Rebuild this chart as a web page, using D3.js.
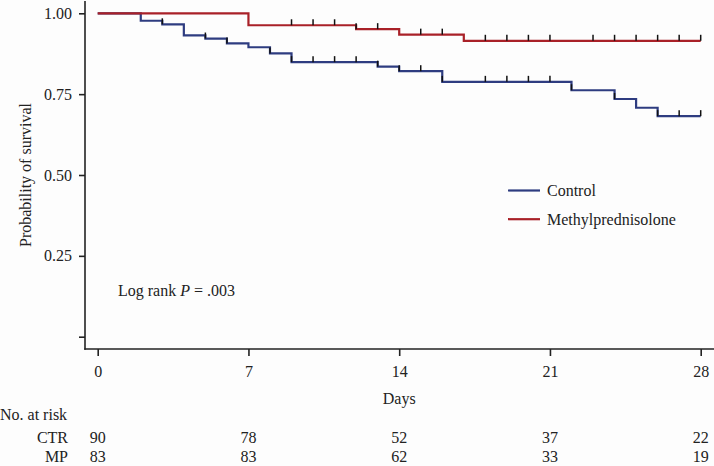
<!DOCTYPE html>
<html><head><meta charset="utf-8">
<script src="https://cdn.jsdelivr.net/npm/d3@7"></script>
<style>
html,body{margin:0;padding:0;background:#fdfdfd;}
svg{display:block;}
text{font-family:"Liberation Serif","Times New Roman",serif;fill:#222;}
</style></head>
<body>
<svg id="chart" width="714" height="466"></svg>
<script>
// ---- data ----
const xTicks = [0, 7, 14, 21, 28];
const yTicks = [0, 0.25, 0.5, 0.75, 1.0];
const yTickLabels = ["", "0.25", "0.50", "0.75", "1.00"];

const ctrTimes = [0, 2, 3, 4, 5, 6, 7, 8, 9, 13, 14, 16, 22, 24, 25, 26, 28];
const ctrSurv  = [1, 0.977, 0.966, 0.932, 0.922, 0.907, 0.895, 0.876, 0.849, 0.835, 0.821, 0.788, 0.762, 0.735, 0.708, 0.682, 0.682];
const ctrCensor = [3, 5, 6, 8, 9, 10, 11, 12, 13, 14, 15, 16, 18, 19, 20, 21, 22, 24, 26, 27, 28];

const mpTimes = [0, 7, 12, 14, 17, 28];
const mpSurv  = [1, 0.963, 0.951, 0.934, 0.915, 0.915];
const mpCensor = [9, 10, 11, 12, 13, 15, 16, 18, 19, 20, 21, 23, 24, 25, 26, 27, 28];

const seriesNames = ["Control", "Methylprednisolone"];
const seriesColors = ["#2e3c80", "#a92128"];

const riskGroups = ["CTR", "MP"];
const riskCTR = [90, 78, 52, 37, 22];
const riskMP  = [83, 83, 62, 33, 19];

// ---- layout ----
const svg = d3.select("#chart");
const axisX = 85, axisY = 349;
const x = d3.scaleLinear().domain([0, 28]).range([97.7, 700.7]);
const y = d3.scaleLinear().domain([0, 1]).range([336.7, 13.3]);
const fs = 16;
const ff = '"Liberation Serif","Times New Roman",serif';

// axes lines
svg.append("line").attr("x1", axisX).attr("x2", axisX).attr("y1", 1).attr("y2", axisY + 0.75)
  .attr("stroke", "#222").attr("stroke-width", 1.6);
svg.append("line").attr("x1", axisX - 0.75).attr("x2", 714).attr("y1", axisY).attr("y2", axisY)
  .attr("stroke", "#222").attr("stroke-width", 1.6);

// y axis
const yAxis = d3.axisLeft(y).tickValues(yTicks).tickSize(6).tickPadding(7)
  .tickFormat((d, i) => yTickLabels[i]);
const gy = svg.append("g").attr("transform", `translate(${axisX},0)`).call(yAxis);
gy.select(".domain").remove();
gy.selectAll(".tick line").attr("stroke", "#222").attr("stroke-width", 1.6);
gy.selectAll(".tick text").style("font-family", ff).style("font-size", fs + "px").attr("fill", "#222");

// x axis
const xAxis = d3.axisBottom(x).tickValues(xTicks).tickSize(7).tickPadding(10);
const gx = svg.append("g").attr("transform", `translate(0,${axisY})`).call(xAxis);
gx.select(".domain").remove();
gx.selectAll(".tick line").attr("stroke", "#222").attr("stroke-width", 1.6);
gx.selectAll(".tick text").style("font-family", ff).style("font-size", fs + "px").attr("fill", "#222");

// axis titles
svg.append("text").attr("x", x(14)).attr("y", 403.5).attr("text-anchor", "middle")
  .style("font-size", fs + "px").text("Days");
svg.append("text").attr("transform", `translate(31,${y(0.5)}) rotate(-90)`).attr("text-anchor", "middle")
  .style("font-size", fs + "px").text("Probability of survival");

// curves
const line = d3.line().x(d => x(d[0])).y(d => y(d[1])).curve(d3.curveStepAfter);
const series = [
  {t: ctrTimes, s: ctrSurv, c: ctrCensor, color: seriesColors[0]},
  {t: mpTimes, s: mpSurv, c: mpCensor, color: seriesColors[1]}
];
function survAt(ser, day) {
  let v = ser.s[0];
  for (let i = 0; i < ser.t.length; i++) if (ser.t[i] <= day) v = ser.s[i];
  return v;
}
series.forEach(ser => {
  const pts = ser.t.map((t, i) => [t, ser.s[i]]);
  svg.append("path").datum(pts).attr("d", line).attr("fill", "none")
    .attr("stroke", ser.color).attr("stroke-width", 2.2);
});
series.forEach(ser => {
  svg.append("g").selectAll("line").data(ser.c).join("line")
    .attr("x1", d => x(d)).attr("x2", d => x(d))
    .attr("y1", d => y(survAt(ser, d)) - 6).attr("y2", d => y(survAt(ser, d)))
    .attr("stroke", "#111").attr("stroke-width", 1.5);
});

// legend
seriesNames.forEach((name, i) => {
  const ly = 190.5 + i * 28.7;
  svg.append("line").attr("x1", 508).attr("x2", 540).attr("y1", ly).attr("y2", ly)
    .attr("stroke", seriesColors[i]).attr("stroke-width", 2.2);
  svg.append("text").attr("x", 547).attr("y", ly + 5.5).style("font-size", fs + "px").text(name);
});

// log rank
const lr = svg.append("text").attr("x", 118).attr("y", 296).style("font-size", fs + "px");
lr.append("tspan").text("Log rank ");
lr.append("tspan").style("font-style", "italic").text("P");
lr.append("tspan").text(" = .003");

// number at risk
svg.append("text").attr("x", 0).attr("y", 419.5).style("font-size", fs + "px").text("No. at risk");
const riskRows = [riskCTR, riskMP];
riskRows.forEach((row, r) => {
  const ry = 442.5 + r * 19.3;
  svg.append("text").attr("x", 68).attr("y", ry).attr("text-anchor", "end")
    .style("font-size", fs + "px").text(riskGroups[r]);
  svg.append("g").selectAll("text").data(row).join("text")
    .attr("x", (d, i) => x(xTicks[i])).attr("y", ry).attr("text-anchor", "middle")
    .style("font-size", fs + "px").text(d => d);
});
</script>
</body></html>
